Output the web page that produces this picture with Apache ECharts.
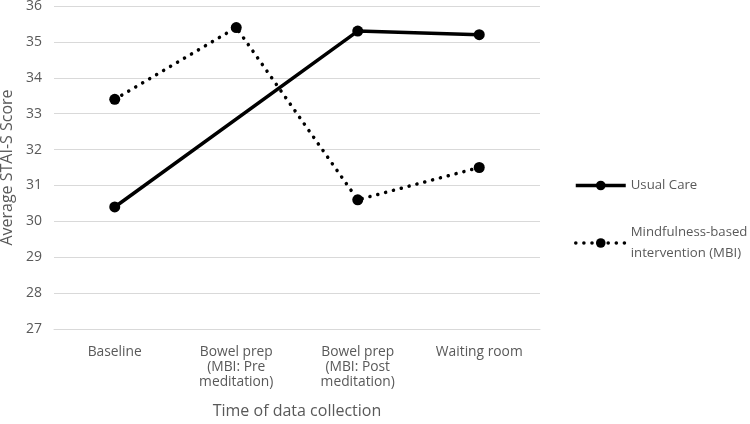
<!DOCTYPE html>
<html>
<head>
<meta charset="utf-8">
<script src="https://cdn.jsdelivr.net/npm/echarts@6/dist/echarts.min.js"></script>
<style>
  html, body { margin: 0; padding: 0; background: #fff; }
  #chart { width: 750px; height: 424px; }
</style>
</head>
<body>
<div id="chart"></div>
<script>
// data
const categories = [
  'Baseline',
  'Bowel prep\n(MBI: Pre\nmeditation)',
  'Bowel prep\n(MBI: Post\nmeditation)',
  'Waiting room'
];
const usualCare = [30.4, null, 35.3, 35.2];
const mbi = [33.4, 35.4, 30.6, 31.5];
const yMin = 27;
const yMax = 36;

const font = '"Open Sans", "Noto Sans", sans-serif';
const textGrey = '#595959';

const chart = echarts.init(document.getElementById('chart'));

chart.setOption({
  backgroundColor: '#fff',
  animation: false,
  textStyle: { fontFamily: font },
  grid: { left: 54, right: 210, top: 6, bottom: 95, outerBoundsMode: 'none' },
  legend: {
    orient: 'vertical',
    left: 569,
    top: 170,
    itemWidth: 50,
    itemHeight: 12,
    itemGap: 26,
    lineStyle: { width: 3.5 },
    textStyle: { color: textGrey, fontSize: 13.2, fontFamily: font, lineHeight: 21 },
    data: ['Usual Care', 'Mindfulness-based\nintervention (MBI)']
  },
  xAxis: {
    type: 'category',
    data: categories,
    boundaryGap: true,
    axisLine: { show: true, lineStyle: { color: '#d9d9d9', width: 1 } },
    axisTick: { show: false },
    axisLabel: { color: textGrey, fontSize: 13.8, lineHeight: 15, margin: 16, interval: 0 },
    name: 'Time of data collection',
    nameLocation: 'middle',
    nameGap: 74,
    nameTextStyle: { color: textGrey, fontSize: 16, fontFamily: font }
  },
  yAxis: {
    type: 'value',
    min: yMin,
    max: yMax,
    interval: 1,
    axisLine: { show: false },
    axisTick: { show: false },
    splitLine: { lineStyle: { color: '#d9d9d9', width: 1.2 } },
    axisLabel: { color: textGrey, fontSize: 14, margin: 12 },
    name: 'Average STAI-S Score',
    nameLocation: 'middle',
    nameGap: 37,
    nameTextStyle: { color: textGrey, fontSize: 16, fontFamily: font }
  },
  series: [
    {
      name: 'Usual Care',
      type: 'line',
      data: usualCare,
      connectNulls: true,
      symbol: 'circle',
      symbolSize: 11,
      itemStyle: { color: '#000' },
      lineStyle: { color: '#000', width: 3.5 }
    },
    {
      name: 'Mindfulness-based\nintervention (MBI)',
      type: 'line',
      data: mbi,
      symbol: 'circle',
      symbolSize: 11,
      itemStyle: { color: '#000' },
      lineStyle: { color: '#000', width: 3.5, type: [0.1, 8], cap: 'round' }
    }
  ]
});
</script>
</body>
</html>
